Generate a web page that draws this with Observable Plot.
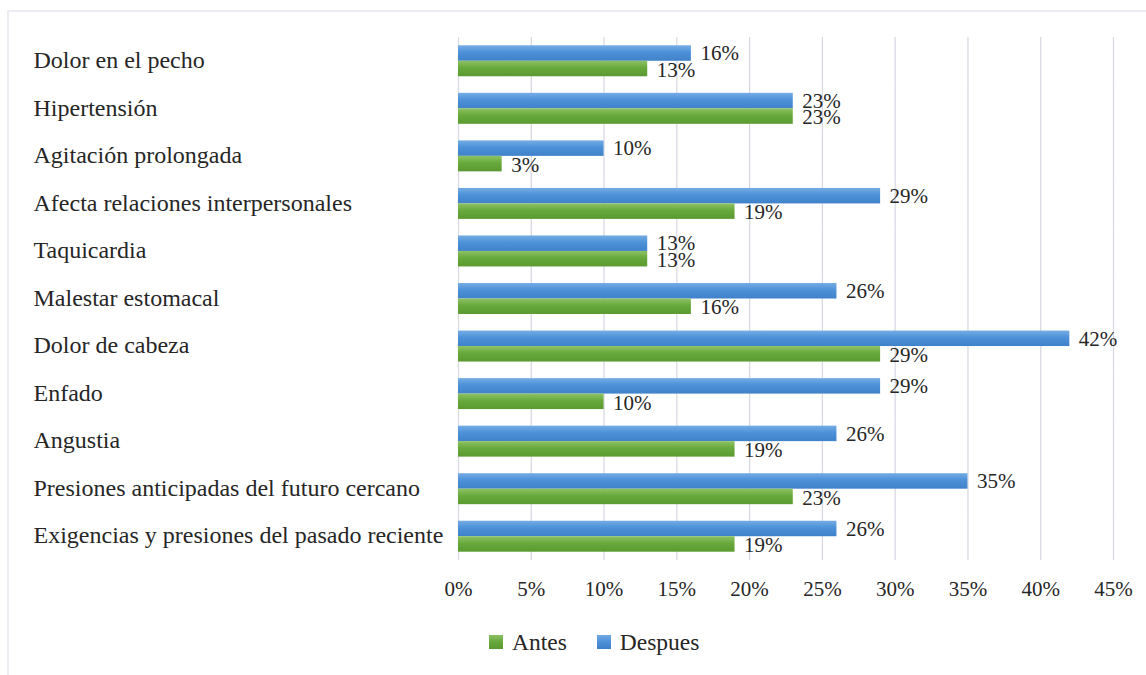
<!DOCTYPE html>
<html><head><meta charset="utf-8">
<script src="https://cdn.jsdelivr.net/npm/d3@7"></script>
<script src="https://cdn.jsdelivr.net/npm/@observablehq/plot@0.6"></script>
<style>
body{margin:0;background:#fff;font-family:"Liberation Serif","Times New Roman",serif;}
#wrap{position:relative;width:1146px;height:675px;overflow:hidden;background:#fff}
#frame{position:absolute;left:7px;top:10px;right:-10px;bottom:-10px;border-left:2px solid #ececf3;border-top:2px solid #ececf3}
#chart{position:absolute;left:0;top:0}
#legend{position:absolute;top:629px;left:489px;display:flex;align-items:center;font-size:23.5px;color:#262626;line-height:26px}
.sw{width:14px;height:14px;display:inline-block;margin-right:9px}
.item{display:flex;align-items:center;margin-right:30px}
</style>
</head><body>
<div id="wrap"><div id="frame"></div><div id="chart"></div>
<div id="legend">
<span class="item"><span class="sw" style="background:linear-gradient(#8cc063,#67a83b 50%,#5a9a30)"></span>Antes</span>
<span class="item"><span class="sw" style="background:linear-gradient(#72abe4,#4c90d7 50%,#3d80c8)"></span>Despues</span>
</div></div>
<script>
const categories = [
  "Dolor en el pecho",
  "Hipertensión",
  "Agitación prolongada",
  "Afecta relaciones interpersonales",
  "Taquicardia",
  "Malestar estomacal",
  "Dolor de cabeza",
  "Enfado",
  "Angustia",
  "Presiones anticipadas del futuro cercano",
  "Exigencias y presiones del pasado reciente"
];
const despues = [16, 23, 10, 29, 13, 26, 42, 29, 26, 35, 26];
const antes   = [13, 23, 3, 19, 13, 16, 29, 10, 19, 23, 19];
const series = ["Despues", "Antes"];
const xTicks = [0, 5, 10, 15, 20, 25, 30, 35, 40, 45];

const rowsDespues = categories.map((c, i) => ({cat: c, serie: "Despues", value: despues[i]}));
const rowsAntes = categories.map((c, i) => ({cat: c, serie: "Antes", value: antes[i]}));

const txt = "#262626";
const svg = Plot.plot({
  width: 1146, height: 610,
  marginLeft: 458, marginRight: 33, marginTop: 37, marginBottom: 50,
  style: {fontFamily: "'Liberation Serif','Times New Roman',serif", fontSize: "21px", color: txt, background: "transparent", overflow: "visible"},
  x: {domain: [0, 45], label: null},
  fy: {domain: categories, padding: 0, round: false, label: null},
  y: {domain: series, paddingInner: 0, paddingOuter: 0.535, round: false, axis: null},
  marks: [
    Plot.gridX(xTicks, {stroke: "#d9d9e4", strokeOpacity: 1, strokeWidth: 1.3}),
    Plot.axisX({ticks: xTicks, tickFormat: d => d + "%", tickSize: 0, tickPadding: 21, fontSize: 21, label: null, fill: txt}),
    Plot.axisFy({anchor: "left", textAnchor: "start", tickSize: 0, tickPadding: 425, fontSize: 24, dy: -1, label: null, fill: txt}),
    Plot.barX(rowsDespues, {fy: "cat", y: "serie", x: "value", fill: "url(#gBlue)"}),
    Plot.barX(rowsAntes, {fy: "cat", y: "serie", x: "value", fill: "url(#gGreen)"}),
    Plot.text(rowsDespues, {fy: "cat", y: "serie", x: "value", text: d => d.value + "%", textAnchor: "start", dx: 9, fontSize: 21, fill: txt}),
    Plot.text(rowsAntes, {fy: "cat", y: "serie", x: "value", text: d => d.value + "%", textAnchor: "start", dx: 9, dy: 1, fontSize: 21, fill: txt})
  ]
});
const ns = "http://www.w3.org/2000/svg";
const defs = document.createElementNS(ns, "defs");
function grad(id, stops) {
  const g = document.createElementNS(ns, "linearGradient");
  g.setAttribute("id", id); g.setAttribute("x1", 0); g.setAttribute("y1", 0); g.setAttribute("x2", 0); g.setAttribute("y2", 1);
  stops.forEach(([o, c]) => { const s = document.createElementNS(ns, "stop"); s.setAttribute("offset", o); s.setAttribute("stop-color", c); g.appendChild(s); });
  defs.appendChild(g);
}
grad("gBlue", [[0, "#75ade5"], [0.45, "#4d91d8"], [1, "#3f82ca"]]);
grad("gGreen", [[0, "#8ec265"], [0.45, "#68a93c"], [1, "#5a9a30"]]);
svg.insertBefore(defs, svg.firstChild);
document.getElementById("chart").appendChild(svg);
</script>
</body></html>
